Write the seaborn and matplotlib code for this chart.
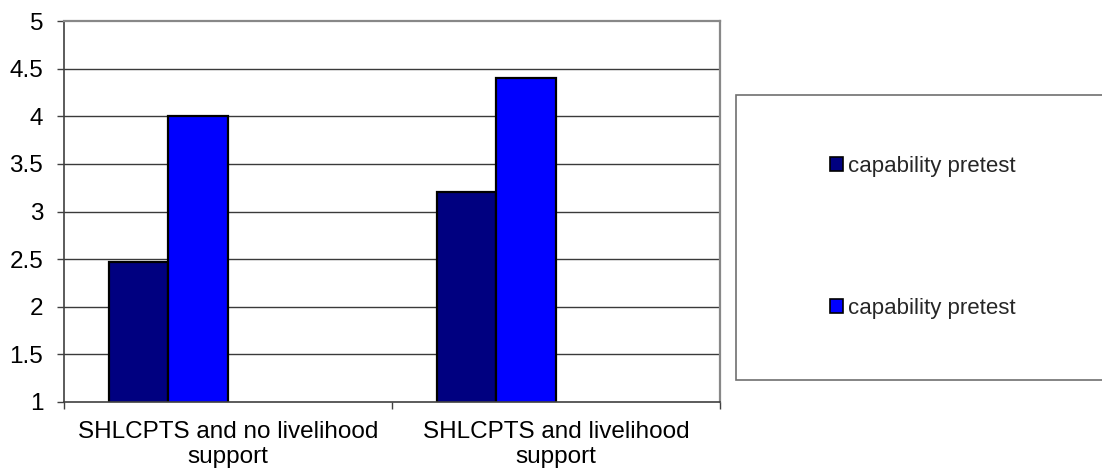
import matplotlib
matplotlib.use("Agg")
import matplotlib.pyplot as plt
from matplotlib.patches import Rectangle, Patch
import numpy as np
import pandas as pd
import seaborn as sns

# Chart data
categories = ["SHLCPTS and no livelihood\nsupport", "SHLCPTS and livelihood\nsupport"]
series_keys = ["s1", "s2", "s3", "s4"]          # two unused slots keep the bar spacing
series_labels = ["capability pretest", "capability pretest"]
series_colors = ["#000080", "#0000FF", "#9999FF", "#993366"]
values_s1 = [2.47, 3.2]
values_s2 = [4.0, 4.4]
y_ticks = [1, 1.5, 2, 2.5, 3, 3.5, 4, 4.5, 5]
y_tick_labels = ["1", "1.5", "2", "2.5", "3", "3.5", "4", "4.5", "5"]

df = pd.DataFrame({
    "group": categories * 2,
    "series": [series_keys[0]] * 2 + [series_keys[1]] * 2,
    "value": values_s1 + values_s2,
})

sns.set_style("white")
plt.rcParams["font.family"] = ["Liberation Sans", "DejaVu Sans"]

fig = plt.figure(figsize=(11.02, 4.75), dpi=100)
ax = fig.add_axes([64 / 1102, 1 - 402 / 475, (720 - 64) / 1102, (402 - 21) / 475])

palette = dict(zip(series_keys, series_colors))
sns.barplot(
    data=df, x="group", y="value", hue="series",
    order=categories, hue_order=series_keys, palette=palette,
    width=4 / 5.5, dodge=True, saturation=1, legend=False,
    edgecolor="black", linewidth=1.6, errorbar=None, ax=ax,
)

ax.set_xlim(-0.5, len(categories) - 0.5)
ax.set_ylim(1, 5)
ax.set_yticks(y_ticks)
ax.set_yticklabels(y_tick_labels)
ax.set_xlabel("")
ax.set_ylabel("")

# horizontal gridlines
for y in y_ticks[1:-1]:
    ax.axhline(y, color="#3a3a3a", linewidth=1.0, zorder=0.5)
ax.set_axisbelow(True)

for side in ["top", "right"]:
    ax.spines[side].set_visible(True)
    ax.spines[side].set_color("#888888")
    ax.spines[side].set_linewidth(1.6)
for side in ["left", "bottom"]:
    ax.spines[side].set_visible(True)
    ax.spines[side].set_color("#404040")
    ax.spines[side].set_linewidth(1.2)

ax.tick_params(axis="y", which="major", direction="out", length=5, width=1,
               color="#404040", pad=10, labelsize=17.5, labelcolor="black", left=True)
ax.set_xticks(np.arange(-0.5, len(categories), 1.0), minor=True)
ax.tick_params(axis="x", which="minor", direction="out", length=5, width=1,
               color="#404040", bottom=True)
ax.tick_params(axis="x", which="major", length=0, pad=13.5,
               labelsize=17.5, labelcolor="black")

# legend box and entries
fig.patches.append(Rectangle((736 / 1102, 1 - 380 / 475), 1.0, (380 - 95) / 475,
                             transform=fig.transFigure, fill=True, facecolor="white",
                             edgecolor="#707070", linewidth=1.2, zorder=0))
handles = [Patch(facecolor=c, edgecolor="black", linewidth=1.2)
           for c in series_colors[:len(series_labels)]]
fig.legend(handles, series_labels, loc="center left",
           bbox_to_anchor=(830 / 1102, 1 - 237.5 / 475),
           bbox_transform=fig.transFigure, frameon=False, fontsize=16,
           handlelength=0.58, handleheight=0.58, handletextpad=0.25,
           labelspacing=5.45, borderpad=0, borderaxespad=0)

fig.savefig("out.png", dpi=100, facecolor="white")
